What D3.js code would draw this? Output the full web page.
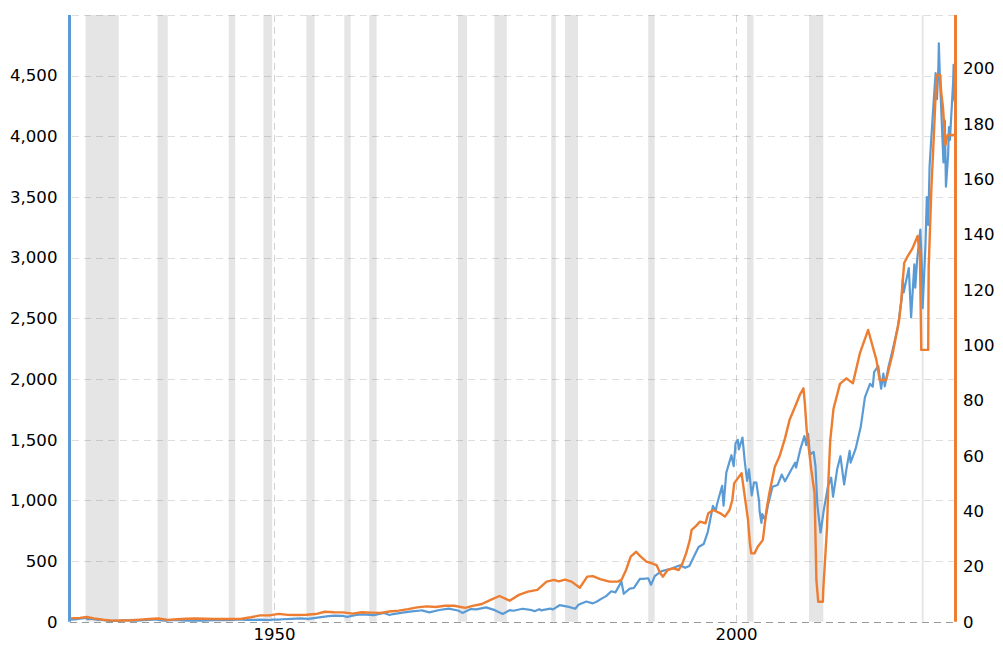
<!DOCTYPE html>
<html><head><meta charset="utf-8">
<script src="https://cdn.jsdelivr.net/npm/d3@7"></script>
<style>
body{margin:0;background:#fff}
svg{display:block}
text{font-family:"DejaVu Sans",Verdana,sans-serif;fill:#000}
</style>
</head><body>
<svg id="chart" width="1003" height="645"></svg>
<script>
// ---- data ----
const leftTicks = [0, 500, 1000, 1500, 2000, 2500, 3000, 3500, 4000, 4500];
const rightTicks = [0, 20, 40, 60, 80, 100, 120, 140, 160, 180, 200];
const xTicks = [1950, 2000];

// recession periods [start, end] in decimal years
const recessions = [
  [1929.6, 1933.2], [1937.4, 1938.5], [1945.1, 1945.8], [1948.85, 1949.8],
  [1953.5, 1954.4], [1957.6, 1958.3], [1960.3, 1961.1], [1969.9, 1970.9],
  [1973.85, 1975.2], [1980.0, 1980.5], [1981.5, 1982.9], [1990.5, 1991.2],
  [2001.2, 2001.9], [2007.9, 2009.45], [2020.1, 2020.3]
];

// S&P 500 index level (left axis) [year, value]
const sp500 = [
  [1927.92,17.6],[1928.5,19.0],[1929.0,24.4],[1929.6,31.7],[1929.85,20.7],[1930.3,25.5],[1930.5,21],
  [1930.95,15.3],[1931.2,18.2],[1931.5,14],[1931.95,8.1],[1932.45,4.4],[1932.7,8.3],[1933.15,5.7],
  [1933.5,11.2],[1934.0,10.5],[1934.6,8.4],[1935.2,8.4],[1935.9,13.4],[1936.9,17.2],[1937.2,18.1],
  [1937.9,10.5],[1938.25,8.5],[1938.9,13.2],[1939.7,12.8],[1940.4,9.3],[1940.9,10.6],[1941.9,8.7],
  [1942.3,7.8],[1942.9,9.7],[1943.5,12.2],[1944.9,13.3],[1945.9,17.4],[1946.4,18.7],[1946.8,14.8],
  [1947.5,15.2],[1948.5,16.4],[1949.45,14],[1949.9,16.8],[1950.5,17.7],[1950.95,20.4],[1951.9,23.8],
  [1952.9,26.6],[1953.7,23.3],[1954.9,35.9],[1955.9,45.5],[1956.6,49.4],[1957.5,47.4],[1957.9,40],
  [1958.9,55.2],[1959.6,60.7],[1960.8,53.4],[1961.9,71.6],[1962.5,54.8],[1962.9,63.1],[1963.9,75],
  [1964.9,84.8],[1965.9,92.4],[1966.0,93],[1966.8,77.1],[1967.9,96.5],[1968.9,108],[1969.9,92.1],
  [1970.4,72.7],[1970.95,92.2],[1971.3,104],[1971.9,102],[1972.95,118],[1973.9,95],[1974.75,63.5],
  [1975.5,95],[1975.9,90],[1976.9,107],[1977.9,95],[1978.2,87],[1978.7,103],[1978.9,94],[1979.9,108],
  [1980.2,102],[1980.9,136],[1981.9,122],[1982.6,107],[1982.95,140],[1983.8,166],[1984.5,151],
  [1984.95,167],[1985.5,192],[1985.95,211],[1986.5,251],[1986.95,242],[1987.6,330],[1987.85,230],
  [1988.5,273],[1988.95,278],[1989.6,353],[1989.95,353],[1990.5,358],[1990.8,304],[1991.2,375],
  [1991.95,417],[1992.95,436],[1993.95,466],[1994.5,444],[1994.95,459],[1995.5,545],[1995.95,616],
  [1996.5,640],[1996.95,741],[1997.5,954],[1997.8,914],[1997.95,970],[1998.5,1120],[1998.65,957],
  [1998.95,1229],[1999.5,1372],[1999.75,1282],[1999.95,1469],[2000.2,1499],[2000.3,1420],[2000.7,1517],
  [2000.95,1320],[2001.2,1160],[2001.4,1255],[2001.7,1041],[2001.95,1148],[2002.2,1147],[2002.5,990],
  [2002.55,912],[2002.75,815],[2002.85,886],[2003.15,841],[2003.5,975],[2003.95,1112],[2004.5,1126],
  [2004.95,1212],[2005.3,1157],[2005.95,1248],[2006.4,1310],[2006.5,1270],[2006.95,1418],[2007.4,1530],
  [2007.6,1455],[2007.8,1549],[2008.0,1378],[2008.4,1400],[2008.6,1282],[2008.8,968],[2008.9,896],
  [2009.15,735],[2009.5,919],[2009.95,1115],[2010.3,1187],[2010.5,1030],[2010.95,1258],[2011.3,1364],
  [2011.7,1131],[2011.95,1258],[2012.3,1408],[2012.4,1310],[2012.95,1426],[2013.5,1606],[2013.95,1848],
  [2014.5,1960],[2014.8,1937],[2014.95,2059],[2015.4,2107],[2015.7,1920],[2015.95,2044],[2016.1,1940],
  [2016.5,2099],[2016.95,2239],[2017.5,2423],[2017.95,2674],[2018.05,2824],[2018.15,2714],[2018.7,2914],
  [2018.95,2507],[2019.3,2946],[2019.4,2752],[2019.6,2980],[2019.95,3231],[2020.1,2954],[2020.2,2585],
  [2020.5,3100],[2020.65,3500],[2020.8,3270],[2020.95,3756],[2021.3,4181],[2021.6,4522],[2021.75,4307],
  [2021.9,4567],[2021.95,4766],[2022.05,4516],[2022.45,3785],[2022.6,4130],[2022.72,3585],[2022.95,3840],
  [2023.05,4077],[2023.15,3970],[2023.5,4450],[2023.55,4589],[2023.65,4288]
];

// S&P 500 earnings per share (right axis) [year, value]
const earnings = [
  [1927.92,1.2],[1929.0,1.4],[1929.75,1.7],[1930.5,1.2],[1931.5,0.7],[1932.5,0.4],[1933.5,0.45],
  [1934.5,0.5],[1935.5,0.75],[1936.5,1.0],[1937.5,1.15],[1938.5,0.65],[1939.5,0.9],[1940.5,1.05],
  [1941.5,1.15],[1942.5,1.05],[1943.5,0.95],[1944.5,0.95],[1945.5,0.96],[1946.5,1.06],[1947.5,1.6],
  [1948.5,2.3],[1949.5,2.3],[1950.5,2.84],[1951.5,2.45],[1952.5,2.4],[1953.5,2.5],[1954.5,2.77],
  [1955.5,3.6],[1956.5,3.4],[1957.5,3.37],[1958.5,2.9],[1959.5,3.4],[1960.5,3.27],[1961.5,3.2],
  [1962.5,3.67],[1963.5,4.02],[1964.5,4.55],[1965.5,5.19],[1966.5,5.55],[1967.5,5.33],[1968.5,5.76],
  [1969.5,5.78],[1970.7,5.0],[1971.5,5.7],[1972.5,6.4],[1973.5,8.0],[1974.4,9.3],[1975.5,7.6],
  [1976.5,9.7],[1977.5,10.9],[1978.5,11.5],[1979.5,14.5],[1980.3,15.1],[1980.8,14.6],[1981.5,15.2],
  [1982.2,14.5],[1983.1,12.3],[1983.9,16.3],[1984.5,16.5],[1985.3,15.4],[1986.3,14.5],[1987.2,14.5],
  [1987.6,15.1],[1988.1,18.7],[1988.6,23.5],[1989.2,25.3],[1989.6,23.8],[1990.3,21.7],[1990.9,21.1],
  [1991.4,20.5],[1991.8,17.5],[1992.1,16.3],[1992.6,18.7],[1993.2,19.3],[1993.8,18.7],[1994.2,21.1],
  [1994.6,24.7],[1995.0,29.5],[1995.2,33.2],[1995.6,34.4],[1996.1,36.2],[1996.7,35.6],[1997.0,39.2],
  [1997.55,40.4],[1998.3,39.2],[1998.8,38.0],[1999.3,40.4],[1999.6,44],[1999.8,50],[2000.05,51.2],
  [2000.6,53.7],[2000.95,45.2],[2001.3,36.8],[2001.5,28.4],[2001.65,24.7],[2002.0,24.7],[2002.35,27.1],
  [2002.9,29.5],[2003.3,40.4],[2003.6,46.4],[2004.2,56],[2004.7,59.7],[2005.3,66.3],[2005.8,73],
  [2006.4,77.8],[2006.9,82],[2007.3,84.4],[2007.45,79],[2007.65,69.3],[2008.15,54.9],[2008.5,46.5],
  [2008.7,15],[2008.9,7.2],[2009.4,7.2],[2009.45,12],[2009.85,34],[2010.0,51],[2010.2,65.7],
  [2010.55,77],[2011.25,86],[2011.95,88],[2012.65,86.2],[2013.4,97],[2014.3,105.5],[2015.2,94.6],
  [2015.55,87.4],[2016.25,87.4],[2016.95,97],[2017.65,109],[2017.85,115],[2018.2,129.7],[2018.55,132],
  [2019.1,135],[2019.65,139.5],[2019.9,133],[2020.05,98.3],[2020.8,98.3],[2020.85,127.8],[2021.16,158],
  [2021.4,175],[2021.7,197.7],[2022.1,197.7],[2022.2,191.7],[2022.4,186],[2022.66,172.4],[2022.9,176],
  [2023.67,176]
];

// ---- layout ----
const svg = d3.select('#chart');
const plotL = 70, plotR = 955, plotT = 15, plotB = 621.7;
const x = d3.scaleLinear().domain([1927.92, 2023.7]).range([plotL, plotR]);
const yL = d3.scaleLinear().domain([0, 5000]).range([plotB, plotT]);
const yR = d3.scaleLinear().domain([0, 219.4]).range([plotB, plotT]);

const blue = '#5b9bd5', orange = '#ed7d31';
const fontFam = '"DejaVu Sans",Verdana,sans-serif';
const fontSize = 16.6;

// recession bands
svg.append('g').selectAll('rect').data(recessions).join('rect')
  .attr('x', d => x(d[0])).attr('y', plotT)
  .attr('width', d => Math.max(1.5, x(d[1]) - x(d[0])))
  .attr('height', plotB - plotT)
  .attr('fill', 'rgba(0,0,0,0.1)');

// horizontal gridlines
svg.append('g').selectAll('line').data(leftTicks.filter(t => t > 0).concat([5000])).join('line')
  .attr('x1', plotL + 2).attr('x2', plotR)
  .attr('y1', d => Math.round(yL(d)) + 0.5).attr('y2', d => Math.round(yL(d)) + 0.5)
  .attr('stroke', 'rgba(0,0,0,0.13)').attr('stroke-dasharray', '7,5');

// vertical gridlines
svg.append('g').selectAll('line').data(xTicks).join('line')
  .attr('x1', d => Math.round(x(d)) + 0.5).attr('x2', d => Math.round(x(d)) + 0.5)
  .attr('y1', plotT).attr('y2', plotB)
  .attr('stroke', 'rgba(0,0,0,0.18)').attr('stroke-dasharray', '7,5');

// baseline
svg.append('line').attr('x1', plotL).attr('x2', plotR)
  .attr('y1', Math.round(yL(0)) + 0.5).attr('y2', Math.round(yL(0)) + 0.5)
  .attr('stroke', '#999').attr('stroke-dasharray', '7,5');

// lines
const lineL = d3.line().x(d => x(d[0])).y(d => yL(d[1]));
const lineR = d3.line().x(d => x(d[0])).y(d => yR(d[1]));
svg.append('path').datum(sp500).attr('d', lineL)
  .attr('fill', 'none').attr('stroke', blue).attr('stroke-width', 2.2).attr('stroke-linejoin', 'round');
svg.append('path').datum(earnings).attr('d', lineR)
  .attr('fill', 'none').attr('stroke', orange).attr('stroke-width', 2.4).attr('stroke-linejoin', 'round');

// axis lines
svg.append('line').attr('x1', 69.5).attr('x2', 69.5).attr('y1', plotT).attr('y2', plotB)
  .attr('stroke', blue).attr('stroke-width', 3);
svg.append('line').attr('x1', 955.5).attr('x2', 955.5).attr('y1', plotT).attr('y2', plotB)
  .attr('stroke', orange).attr('stroke-width', 3);

// left axis labels
const axL = d3.axisLeft(yL).tickValues(leftTicks).tickSize(0).tickPadding(0)
  .tickFormat(d3.format(','));
const gL = svg.append('g').attr('transform', 'translate(57.5,0)').call(axL);
gL.select('.domain').remove();
gL.selectAll('text').attr('font-size', fontSize).attr('font-family', fontFam).attr('fill', '#000');

// right axis labels
const axR = d3.axisRight(yR).tickValues(rightTicks).tickSize(0).tickPadding(0);
const gR = svg.append('g').attr('transform', 'translate(963,0)').call(axR);
gR.select('.domain').remove();
gR.selectAll('text').attr('font-size', fontSize).attr('font-family', fontFam).attr('fill', '#000');

// x axis labels
const axX = d3.axisBottom(x).tickValues(xTicks).tickSize(0).tickPadding(0).tickFormat(d3.format('d'));
const gX = svg.append('g').attr('transform', 'translate(0,628.3)').call(axX);
gX.select('.domain').remove();
gX.selectAll('text').attr('font-size', fontSize).attr('font-family', fontFam).attr('fill', '#000');
</script>
</body></html>
